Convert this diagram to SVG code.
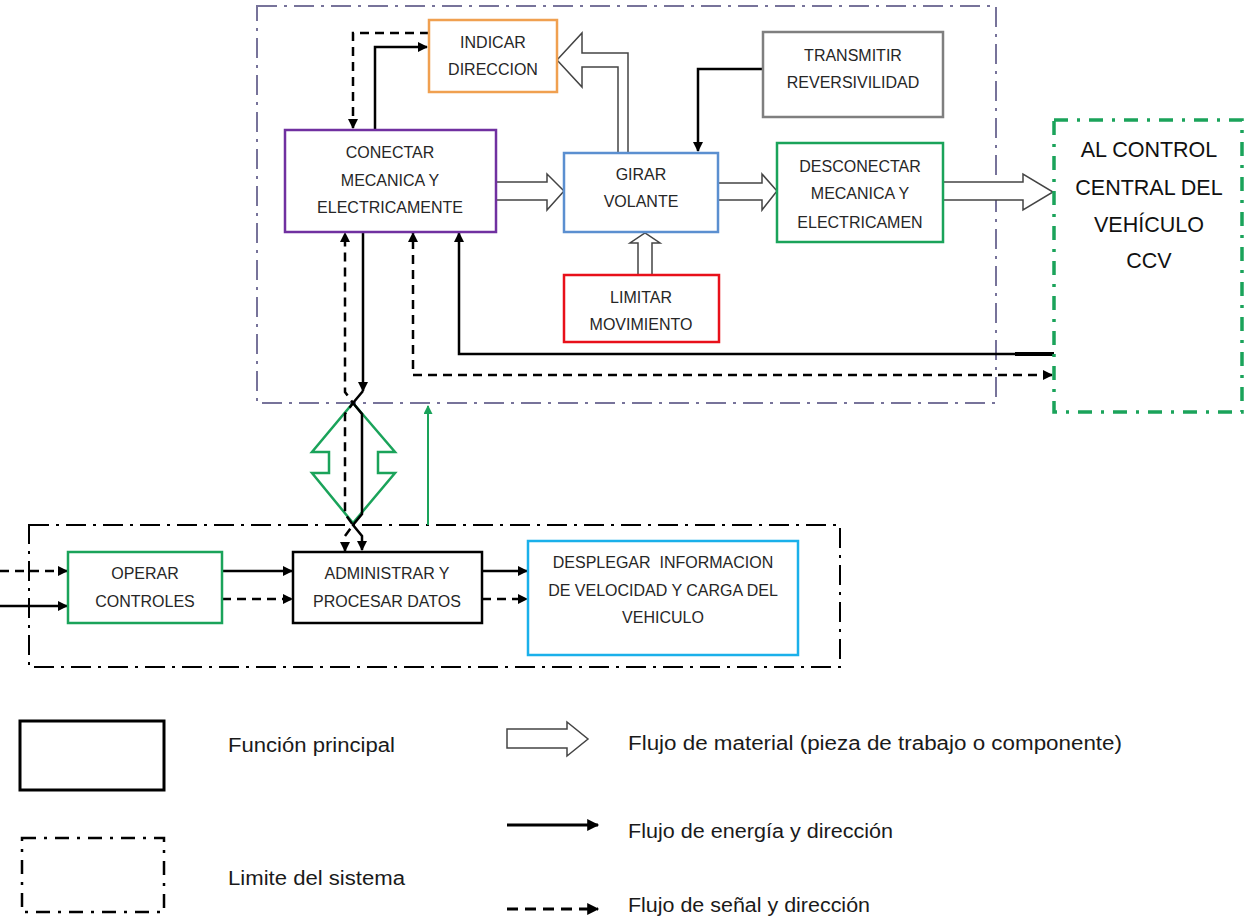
<svg xmlns="http://www.w3.org/2000/svg" width="1246" height="920" viewBox="0 0 1246 920">
<defs>
<style>
.t{font-family:"Liberation Sans",Arial,sans-serif;font-size:16px;fill:#262626;text-anchor:middle}
.big{font-family:"Liberation Sans",Arial,sans-serif;font-size:21.5px;fill:#111;text-anchor:middle}
.lg{font-family:"Liberation Sans",Arial,sans-serif;font-size:20px;fill:#1a1a1a}
.box{fill:#fff;stroke-width:2.5}
.s{fill:none;stroke:#000;stroke-width:2.5}
.d{fill:none;stroke:#000;stroke-width:2.5;stroke-dasharray:9 6}
.h{fill:#fff;stroke:#444;stroke-width:1.5;stroke-linejoin:miter}
.bnd{fill:none;stroke-width:2;stroke-dasharray:20 7 3 7}
</style>
<marker id="ah" viewBox="0 0 10 10" refX="9" refY="5" markerWidth="11" markerHeight="10" markerUnits="userSpaceOnUse" orient="auto-start-reverse"><path d="M0,0 L10,5 L0,10 z" fill="#000"/></marker>
<marker id="ahg" viewBox="0 0 10 10" refX="9" refY="5" markerWidth="10" markerHeight="9" markerUnits="userSpaceOnUse" orient="auto"><path d="M0,0 L10,5 L0,10 z" fill="#1aa35a"/></marker>
<marker id="ahl" viewBox="0 0 10 10" refX="9" refY="5" markerWidth="13" markerHeight="12" markerUnits="userSpaceOnUse" orient="auto"><path d="M0,0 L10,5 L0,10 z" fill="#000"/></marker>
</defs>
<rect width="1246" height="920" fill="#fff"/>

<g id="boundaries">
<rect x="257" y="6" width="739" height="397" class="bnd" stroke="#77739a"/>
<rect x="29" y="525" width="811" height="142" class="bnd" stroke="#000" stroke-width="2.5"/>
</g>

<g id="connectors">
<path class="h" d="M628,153 V53 H582 V33 L557,60 L582,87 V67 H618 V153"/>
<path class="h" d="M496,182 H547 V174 L564,191 L547,210 V200 H496"/>
<path class="h" d="M718,183 H762 V174 L777,191 L762,210 V200 H718"/>
<path class="h" d="M943,182 H1023 V174 L1053,192 L1023,210 V200 H943"/>
<path class="h" d="M638,275 V243 H630 L645,233 L660,243 H652 V275"/>
<polygon points="353,403 395,452 378,452 378,473 395,473 353,523 312,473 329,473 329,452 312,452" fill="none" stroke="#1aa35a" stroke-width="2.5"/>
<path class="d" d="M429,33 H353 V128" marker-end="url(#ah)"/>
<path class="s" d="M375,130 V47 H427" marker-end="url(#ah)"/>
<path class="s" d="M763,69 H698 V151" marker-end="url(#ah)"/>
<path class="d" d="M345,551 V536 L353,525 L345,514 V414 L353,403 L345,392 V233" marker-start="url(#ah)" marker-end="url(#ah)"/>
<path class="s" d="M363,232 V391" marker-end="url(#ah)"/>
<path class="s" d="M363,391 L353,403 L362,414 V514 L353,525 L362,536 V550" marker-end="url(#ah)"/>
<path class="d" d="M1052,375 H413 V233" marker-start="url(#ah)" marker-end="url(#ah)"/>
<path class="s" d="M1054,354 H459 V233" marker-end="url(#ah)"/>
<path d="M1015,354 H1054" stroke="#000" stroke-width="4"/>
<path d="M428,525 V406" fill="none" stroke="#1aa35a" stroke-width="2" marker-end="url(#ahg)"/>
<path class="d" d="M0,571 H67" marker-end="url(#ah)"/>
<path class="s" d="M0,606 H67" marker-end="url(#ah)"/>
<path class="s" d="M222,571 H292" marker-end="url(#ah)"/>
<path class="d" d="M222,599 H292" marker-end="url(#ah)"/>
<path class="s" d="M482,571 H527" marker-end="url(#ah)"/>
<path class="d" d="M482,599 H527" marker-end="url(#ah)"/>
</g>

<g id="indicar">
<rect x="429" y="20" width="128" height="72" class="box" stroke="#f0a050"/>
<text class="t" x="493" y="48">INDICAR</text>
<text class="t" x="493" y="75">DIRECCION</text>
</g>
<g id="conectar">
<rect x="285" y="130" width="211" height="102" class="box" stroke="#7030a0"/>
<text class="t" x="390" y="158">CONECTAR</text>
<text class="t" x="390" y="186">MECANICA Y</text>
<text class="t" x="390" y="213">ELECTRICAMENTE</text>
</g>
<g id="girar">
<rect x="564" y="153" width="154" height="79" class="box" stroke="#5b8fd0"/>
<text class="t" x="641" y="180">GIRAR</text>
<text class="t" x="641" y="207">VOLANTE</text>
</g>
<g id="transmitir">
<rect x="763" y="32" width="180" height="85" class="box" stroke="#7f7f7f"/>
<text class="t" x="853" y="61">TRANSMITIR</text>
<text class="t" x="853" y="88">REVERSIVILIDAD</text>
</g>
<g id="desconectar">
<rect x="777" y="143" width="166" height="99" class="box" stroke="#1aa35a"/>
<text class="t" x="860" y="172">DESCONECTAR</text>
<text class="t" x="860" y="199">MECANICA Y</text>
<text class="t" x="860" y="228">ELECTRICAMEN</text>
</g>
<g id="limitar">
<rect x="564" y="275" width="155" height="67" class="box" stroke="#e8101a"/>
<text class="t" x="641" y="303">LIMITAR</text>
<text class="t" x="641" y="330">MOVIMIENTO</text>
</g>
<g id="ccv">
<rect x="1054" y="120" width="188" height="292" fill="none" stroke="#1aa35a" stroke-width="3.5" stroke-dasharray="14 9 3 9"/>
<text class="big" x="1149" y="157">AL CONTROL</text>
<text class="big" x="1149" y="195">CENTRAL DEL</text>
<text class="big" x="1149" y="232">VEHÍCULO</text>
<text class="big" x="1149" y="268">CCV</text>
</g>
<g id="operar">
<rect x="68" y="552" width="154" height="71" class="box" stroke="#1aa35a"/>
<text class="t" x="145" y="579">OPERAR</text>
<text class="t" x="145" y="607">CONTROLES</text>
</g>
<g id="administrar">
<rect x="293" y="552" width="189" height="71" class="box" stroke="#000"/>
<text class="t" x="387" y="579">ADMINISTRAR Y</text>
<text class="t" x="387" y="607">PROCESAR DATOS</text>
</g>
<g id="desplegar">
<rect x="528" y="541" width="270" height="114" class="box" stroke="#1ab0ea"/>
<text class="t" x="663" y="568" xml:space="preserve">DESPLEGAR  INFORMACION</text>
<text class="t" x="663" y="596">DE VELOCIDAD Y CARGA DEL</text>
<text class="t" x="663" y="623">VEHICULO</text>
</g>

<g id="legend">
<rect x="20" y="721" width="144" height="69" fill="none" stroke="#000" stroke-width="3"/>
<rect x="22" y="838" width="142" height="74" fill="none" stroke="#000" stroke-width="2.5" stroke-dasharray="14 8 3 8"/>
<text class="lg" x="228" y="752" textLength="167" lengthAdjust="spacingAndGlyphs">Función principal</text>
<text class="lg" x="228" y="885" textLength="177" lengthAdjust="spacingAndGlyphs">Limite del sistema</text>
<path class="h" d="M507,729 H567 V722 L588,739 L567,756 V748 H507 Z"/>
<path d="M507,825 H598" stroke="#000" stroke-width="3" marker-end="url(#ahl)"/>
<path d="M507,909 H598" stroke="#000" stroke-width="3" stroke-dasharray="11 7" marker-end="url(#ahl)"/>
<text class="lg" x="628" y="750" textLength="494" lengthAdjust="spacingAndGlyphs">Flujo de material (pieza de trabajo o componente)</text>
<text class="lg" x="628" y="838" textLength="265" lengthAdjust="spacingAndGlyphs">Flujo de energía y dirección</text>
<text class="lg" x="628" y="912" textLength="242" lengthAdjust="spacingAndGlyphs">Flujo de señal y dirección</text>
</g>
</svg>
